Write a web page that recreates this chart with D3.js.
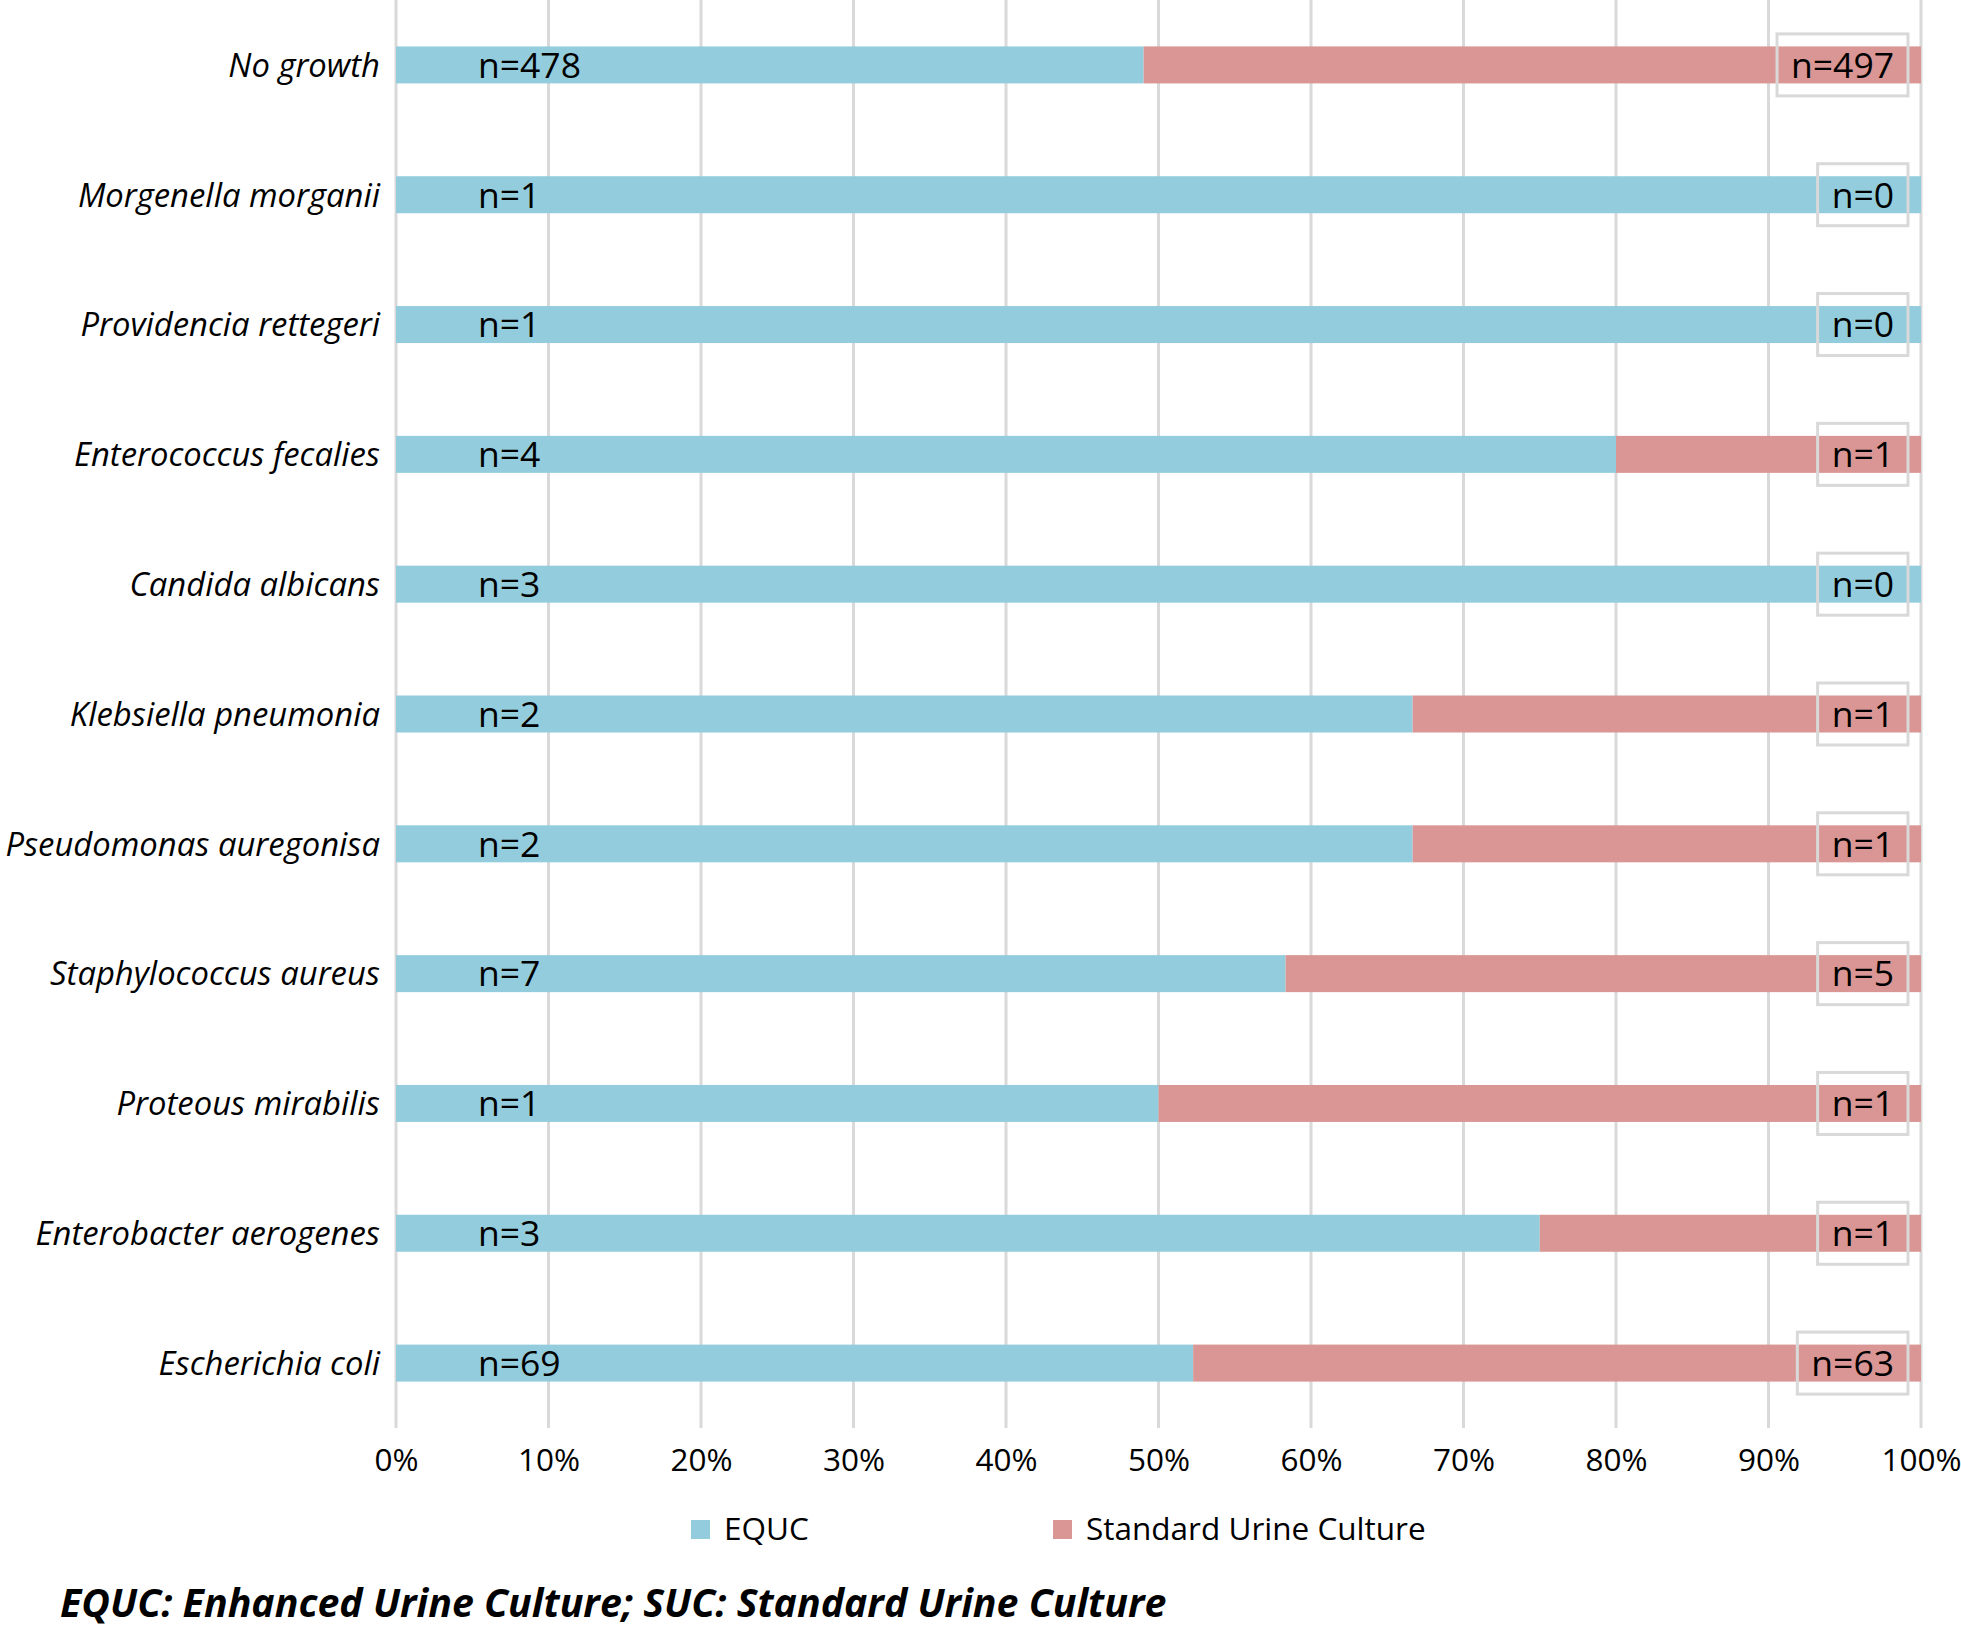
<!DOCTYPE html>
<html>
<head>
<meta charset="utf-8">
<script src="https://cdn.jsdelivr.net/npm/d3@7"></script>
<style>
  html, body { margin: 0; padding: 0; background: #fff; }
  svg { display: block; font-family: "Open Sans", sans-serif; }
</style>
</head>
<body>
<svg id="chart" width="1961" height="1632"></svg>
<script>
const categories = [
  "No growth",
  "Morgenella morganii",
  "Providencia rettegeri",
  "Enterococcus fecalies",
  "Candida albicans",
  "Klebsiella pneumonia",
  "Pseudomonas auregonisa",
  "Staphylococcus aureus",
  "Proteous mirabilis",
  "Enterobacter aerogenes",
  "Escherichia coli"
];
const equcCounts = [478, 1, 1, 4, 3, 2, 2, 7, 1, 3, 69];
const sucCounts  = [497, 0, 0, 1, 0, 1, 1, 5, 1, 1, 63];
const seriesNames = ["EQUC", "Standard Urine Culture"];
const seriesKeys = ["equc", "suc"];
const tickValues = [0, 0.1, 0.2, 0.3, 0.4, 0.5, 0.6, 0.7, 0.8, 0.9, 1.0];
const footnote = "EQUC: Enhanced Urine Culture; SUC: Standard Urine Culture";

const colors = { equc: "#93CDDD", suc: "#D99694" };
const gridColor = "#d9d9d9";

const rows = categories.map((c, i) => ({ category: c, equc: equcCounts[i], suc: sucCounts[i] }));
const stacked = d3.stack().keys(seriesKeys).offset(d3.stackOffsetExpand)(rows);

const svg = d3.select("#chart");
const plotLeft = 396, plotRight = 1921, plotTop = 0, plotBottom = 1428;

const x = d3.scaleLinear().domain([0, 1]).range([plotLeft, plotRight]);
const y = d3.scaleBand().domain(categories).range([plotTop, plotBottom])
  .paddingInner(0.715).paddingOuter(0.3575);

// gridlines
svg.append("g").selectAll("line").data(tickValues).join("line")
  .attr("x1", d => x(d)).attr("x2", d => x(d))
  .attr("y1", plotTop).attr("y2", plotBottom)
  .attr("stroke", gridColor).attr("stroke-width", 3);

// bars
const layers = svg.append("g").selectAll("g").data(stacked).join("g")
  .attr("fill", d => colors[d.key]);
layers.selectAll("rect").data(d => d).join("rect")
  .attr("x", d => x(d[0]))
  .attr("width", d => Math.max(0, x(d[1]) - x(d[0])))
  .attr("y", d => y(d.data.category))
  .attr("height", y.bandwidth());

// x axis labels
const xAxis = d3.axisBottom(x).tickValues(tickValues).tickSize(0).tickPadding(0)
  .tickFormat(d3.format(".0%"));
const gx = svg.append("g").attr("transform", `translate(0,${plotBottom})`).call(xAxis);
gx.select(".domain").remove();
gx.selectAll("text").attr("font-size", 31.5).attr("font-family", "Open Sans")
  .attr("fill", "#000").attr("y", 32).attr("dy", "0.36em");

// y axis labels
const yAxis = d3.axisLeft(y).tickSize(0).tickPadding(16);
const gy = svg.append("g").attr("transform", `translate(${plotLeft},0)`).call(yAxis);
gy.select(".domain").remove();
gy.selectAll("text").attr("font-size", 32.8).attr("font-family", "Open Sans")
  .attr("font-style", "italic").attr("fill", "#000").attr("dy", "0.36em");

// left n labels (EQUC)
svg.append("g").selectAll("text").data(rows).join("text")
  .attr("x", x(0) + 82)
  .attr("y", d => y(d.category) + y.bandwidth() / 2)
  .attr("dy", "0.36em")
  .attr("font-size", 35.5)
  .attr("fill", "#000")
  .text(d => "n=" + d.equc);

// right n labels (SUC) in boxes
const rg = svg.append("g");
rows.forEach(d => {
  const cy = y(d.category) + y.bandwidth() / 2;
  const g = rg.append("g");
  const box = g.append("rect");
  const t = g.append("text")
    .attr("x", x(1) - 27)
    .attr("y", cy)
    .attr("dy", "0.36em")
    .attr("text-anchor", "end")
    .attr("font-size", 35.5)
    .attr("fill", "#000")
    .text("n=" + d.suc);
  const w = t.node().getComputedTextLength();
  box.attr("x", x(1) - 27 - w - 14).attr("y", cy - 31)
    .attr("width", w + 28).attr("height", 62)
    .attr("fill", "none").attr("stroke", gridColor).attr("stroke-width", 3);
});

// legend
const legendX = [691, 1053];
const lg = svg.append("g");
seriesKeys.forEach((k, i) => {
  lg.append("rect").attr("x", legendX[i]).attr("y", 1520).attr("width", 19).attr("height", 19)
    .attr("fill", colors[k]);
  lg.append("text").attr("x", legendX[i] + 33).attr("y", 1529).attr("dy", "0.36em")
    .attr("font-size", 31.5).attr("fill", "#000").text(seriesNames[i]);
});

// footnote
svg.append("text").attr("x", 60).attr("y", 1603).attr("dy", "0.36em")
  .attr("font-size", 39.3).attr("font-weight", "bold").attr("font-style", "italic")
  .attr("fill", "#000").text(footnote);
</script>
</body>
</html>
